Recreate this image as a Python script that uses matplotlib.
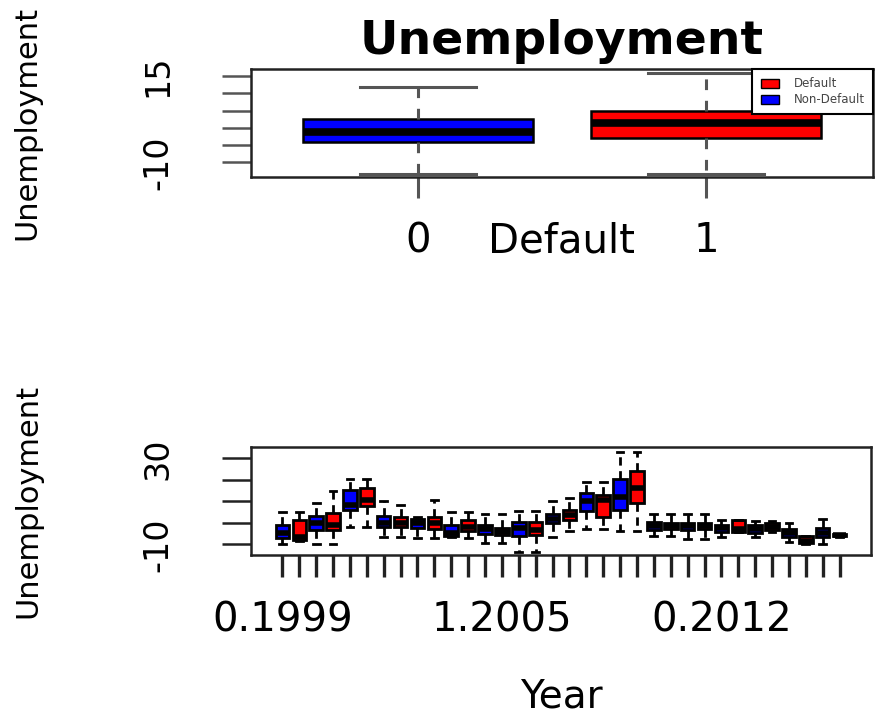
import matplotlib
matplotlib.use("Agg")
import matplotlib.pyplot as plt
from matplotlib.patches import Patch

plt.rcParams['font.family'] = ['DejaVu Sans']

# top panel: Unemployment by Default (0 = non-default, 1 = default)
groups = ['0', '1']
top_whislo = [-13.2, -13.2]
top_q1 = [-4.0, -2.8]
top_med = [-1.1, 1.5]
top_q3 = [2.6, 4.9]
top_whishi = [11.8, 15.9]

# bottom panel: Unemployment by Default.Year, ordered 0.1999, 1.1999, 0.2000, ...
years = list(range(1999, 2016))
bot_whislo = [-9.8, -8.5, -9.8, -9.8, -2.0, -2.0, -6.4, -6.4, -6.8, -6.8,
              -6.7, -7.1, -9.5, -9.5, -13.5, -13.5, -6.4, -3.6, -2.9, -2.9,
              -3.6, -3.6, -6.0, -6.0, -7.6, -7.6, -6.7, -4.4, -6.7, -4.2,
              -8.7, -9.6, -9.8, -6.7]
bot_q1 = [-7.0, -7.9, -3.3, -3.3, 6.0, 7.9, -1.7, -2.0, -2.5, -2.9,
          -6.0, -3.6, -5.1, -5.6, -6.0, -5.6, -0.2, 1.4, 5.7, 2.9,
          6.0, 9.2, -3.3, -2.9, -3.3, -2.9, -4.0, -4.0, -4.8, -3.3,
          -6.4, -9.1, -6.4, -6.0]
bot_med = [-4.7, -6.4, 0.0, -0.9, 8.4, 10.7, -0.2, 0.0, -0.2, 0.0,
           -4.5, -2.0, -2.9, -4.0, -2.5, -3.3, 1.9, 3.7, 10.0, 10.7,
           12.2, 16.4, -1.4, -1.4, -1.4, -1.2, -2.5, -2.9, -2.9, -2.0,
           -4.8, -8.2, -4.5, -5.6]
bot_q3 = [-0.9, 1.4, 3.3, 4.5, 15.3, 16.4, 3.3, 2.6, 1.7, 2.9,
          -0.9, 1.4, -0.9, -2.5, 0.6, 0.6, 4.2, 6.0, 14.1, 13.0,
          20.3, 24.3, 0.6, 0.2, 0.2, 0.2, -0.9, 1.4, -0.9, 0.2,
          -2.9, -6.0, -2.5, -5.1]
bot_whishi = [5.3, 5.3, 9.4, 15.0, 20.3, 20.3, 10.2, 8.2, 2.9, 10.7,
              5.3, 5.3, 4.2, 4.2, 5.7, 5.7, 10.2, 11.5, 19.2, 19.2,
              33.2, 33.2, 4.2, 4.2, 4.2, 4.2, 1.4, 1.4, 1.1, 1.1,
              0.2, -6.0, 1.7, -5.1]

bot_labels = []
for y in years:
    bot_labels += ['0.' + str(y), '1.' + str(y)]
shown_labels = ['0.1999', '1.2005', '0.2012']

box_colors = ['blue', 'red']


def make_stats(whislo, q1, med, q3, whishi):
    stats = []
    for i in range(len(med)):
        stats.append(dict(whislo=whislo[i], q1=q1[i], med=med[i], q3=q3[i],
                          whishi=whishi[i], fliers=[]))
    return stats


def draw_box(ax, stats, positions, line_col, lw_box, lw_med, lw_whisk, dash):
    bp = ax.bxp(stats, positions=positions, widths=0.8, patch_artist=True,
                showfliers=False,
                boxprops=dict(edgecolor='black', linewidth=lw_box),
                medianprops=dict(color='black', linewidth=lw_med, solid_capstyle='butt'),
                whiskerprops=dict(color=line_col, linewidth=lw_whisk, linestyle=(0, dash)),
                capprops=dict(color=line_col, linewidth=lw_whisk))
    for i, b in enumerate(bp['boxes']):
        b.set_facecolor(box_colors[i % 2])
    return bp


def style_axes(ax):
    for s in ax.spines.values():
        s.set_linewidth(1.8)
        s.set_color('#222222')


fig = plt.figure(figsize=(8.75, 7.19), dpi=100)

# ---------- top panel ----------
ax1 = fig.add_axes([251 / 875, 1 - 177 / 719, 622 / 875, 108 / 719])
draw_box(ax1, make_stats(top_whislo, top_q1, top_med, top_q3, top_whishi),
         [1, 2], '#555555', 1.8, 5.5, 2.2, (3.5, 3.5))
ax1.set_xlim(0.42, 2.58)
ax1.set_ylim(-14.2, 17.0)
ax1.set_xticks([1, 2])
ax1.set_xticklabels(groups, fontsize=29)
ax1.set_yticks([-10, -5, 0, 5, 10, 15])
ax1.set_yticklabels(['-10', '', '', '', '', '15'], fontsize=24, rotation=90, va='center')
ax1.tick_params(axis='x', length=15, width=2.2, color='#555555', pad=17)
ax1.tick_params(axis='y', length=21, width=1.8, color='#555555', pad=34)
ax1.set_title('Unemployment', fontsize=34, fontweight='bold', pad=11)
ax1.set_xlabel('Default', fontsize=29)
ax1.xaxis.set_label_coords(0.5, -0.6)
ax1.xaxis.label.set_va('center')
ax1.set_ylabel('Unemployment', fontsize=22)
ax1.yaxis.set_label_coords(-0.36, 0.5)
ax1.yaxis.label.set_va('center')
style_axes(ax1)
leg = ax1.legend(handles=[Patch(facecolor='red', edgecolor='black', label='Default'),
                          Patch(facecolor='blue', edgecolor='black', label='Non-Default'),],
                 loc='upper right', bbox_to_anchor=(1.0, 1.0), fontsize=8.5,
                 fancybox=False, framealpha=1, edgecolor='black', borderaxespad=0,
                 handlelength=1.6, handleheight=0.8, labelspacing=0.25,
                 handletextpad=1.2, borderpad=0.7)
leg.get_frame().set_linewidth(1.5)
for t in leg.get_texts():
    t.set_color('#444444')

# ---------- bottom panel ----------
ax2 = fig.add_axes([251 / 875, 1 - 555 / 719, 620 / 875, 108 / 719])
pos = list(range(1, len(bot_med) + 1))
draw_box(ax2, make_stats(bot_whislo, bot_q1, bot_med, bot_q3, bot_whishi),
         pos, 'black', 2.0, 4.0, 2.0, (3, 2))
ax2.set_xlim(-0.86, len(bot_med) + 1.86)
ax2.set_ylim(-14.9, 35.3)
ax2.set_xticks(pos)
ax2.set_xticklabels([l if l in shown_labels else '' for l in bot_labels], fontsize=29)
ax2.set_yticks([-10, 0, 10, 20, 30])
ax2.set_yticklabels(['-10', '', '', '', '30'], fontsize=24, rotation=90, va='center')
ax2.tick_params(axis='x', length=16, width=2.4, color='#222222', pad=17)
ax2.tick_params(axis='y', length=21, width=1.8, color='#222222', pad=34)
ax2.set_xlabel('Year', fontsize=28)
ax2.xaxis.set_label_coords(0.5, -1.31)
ax2.xaxis.label.set_va('center')
ax2.set_ylabel('Unemployment', fontsize=22)
ax2.yaxis.set_label_coords(-0.36, 0.5)
ax2.yaxis.label.set_va('center')
style_axes(ax2)

fig.savefig('out.png', dpi=100)
